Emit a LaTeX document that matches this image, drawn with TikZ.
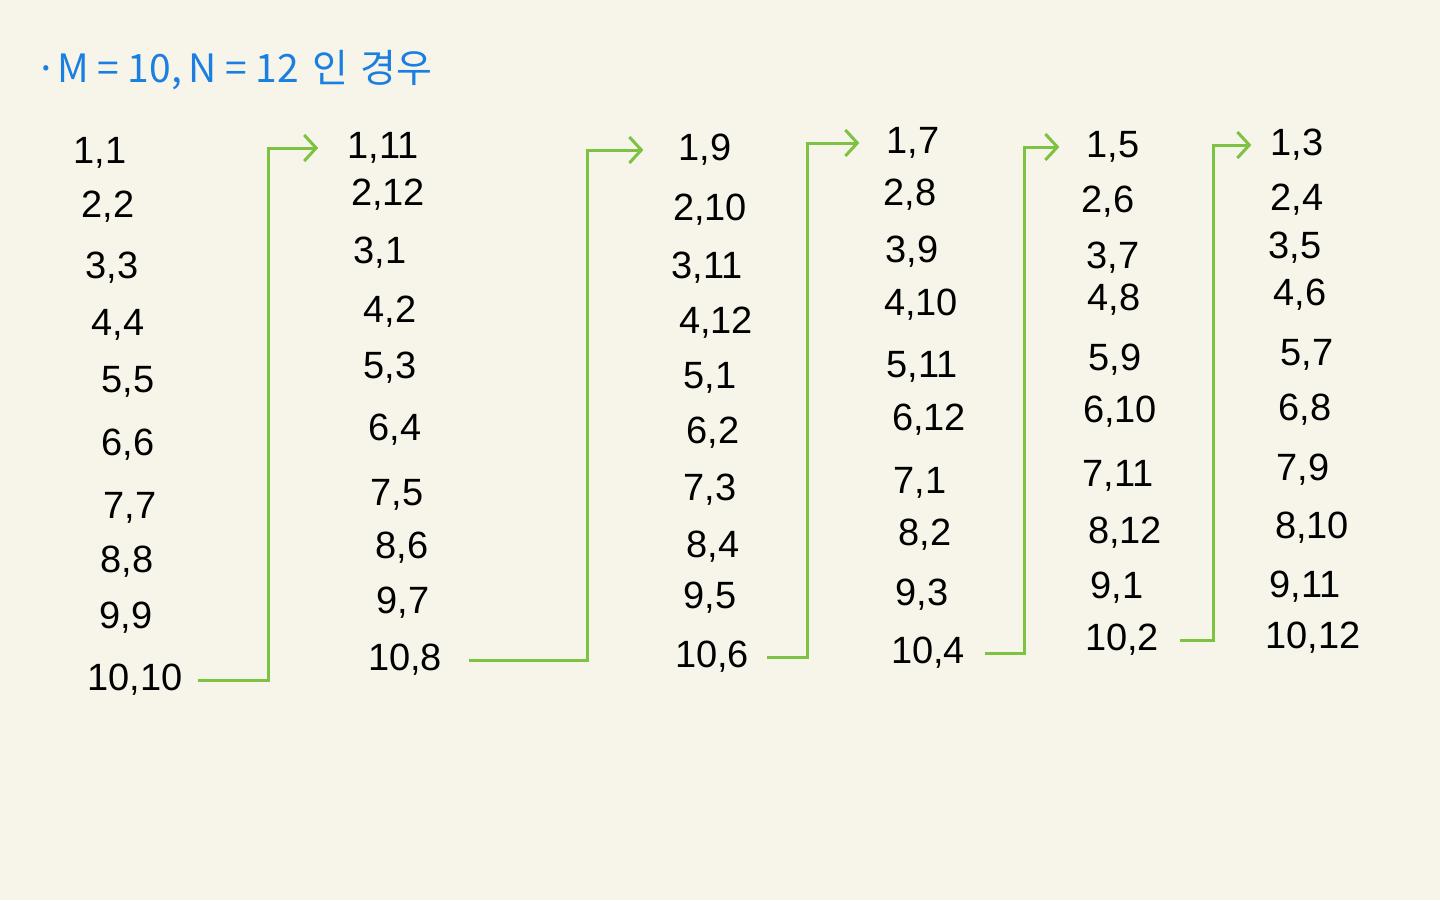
\documentclass[tikz,border=0pt]{standalone}
\usepackage{fontspec}
\setmainfont{Liberation Sans}
\newfontfamily\krfont{Noto Sans CJK KR}
\usetikzlibrary{arrows.meta}
\definecolor{bg}{HTML}{F7F5EA}
\definecolor{grn}{HTML}{7DC242}
\definecolor{blu}{HTML}{1A7FE0}
\tikzset{
  pair/.style={inner sep=1pt, font=\fontsize{38}{40}\selectfont, text=black},
  arr/.style={draw=grn, line width=3pt, -{Straight Barb[length=12pt,width=26pt,line width=3pt]}, line join=miter},
  ttl/.style={inner sep=0pt, anchor=west, text=blu, font=\krfont\fontsize{39}{44}\selectfont}
}
\begin{document}
\begin{tikzpicture}[x=1pt,y=-1pt]
\useasboundingbox (0,0) rectangle (1440,900);
\fill[bg] (0,0) rectangle (1440,900);
\node[ttl] (title) at (35,70) {·M = 10,\,N = 12\,\,인\,\,경우};
% column 1
\node[pair] (a1) at (100,153) {1,1};
\node[pair] (a2) at (108,207) {2,2};
\node[pair] (a3) at (112,268) {3,3};
\node[pair] (a4) at (118,325) {4,4};
\node[pair] (a5) at (128,382) {5,5};
\node[pair] (a6) at (128,445) {6,6};
\node[pair] (a7) at (130,508) {7,7};
\node[pair] (a8) at (127,562) {8,8};
\node[pair] (a9) at (126,618) {9,9};
\node[pair] (a10) at (135,680) {10,10};
% column 2
\node[pair] (b1) at (383,148) {1,11};
\node[pair] (b2) at (388,195) {2,12};
\node[pair] (b3) at (380,253) {3,1};
\node[pair] (b4) at (390,312) {4,2};
\node[pair] (b5) at (390,368) {5,3};
\node[pair] (b6) at (395,430) {6,4};
\node[pair] (b7) at (397,495) {7,5};
\node[pair] (b8) at (402,548) {8,6};
\node[pair] (b9) at (403,603) {9,7};
\node[pair] (b10) at (405,660) {10,8};
% column 3
\node[pair] (c1) at (705,150) {1,9};
\node[pair] (c2) at (710,210) {2,10};
\node[pair] (c3) at (707,268) {3,11};
\node[pair] (c4) at (716,323) {4,12};
\node[pair] (c5) at (710,378) {5,1};
\node[pair] (c6) at (713,433) {6,2};
\node[pair] (c7) at (710,490) {7,3};
\node[pair] (c8) at (713,547) {8,4};
\node[pair] (c9) at (710,598) {9,5};
\node[pair] (c10) at (712,657) {10,6};
% column 4
\node[pair] (d1) at (913,143) {1,7};
\node[pair] (d2) at (910,195) {2,8};
\node[pair] (d3) at (912,252) {3,9};
\node[pair] (d4) at (921,305) {4,10};
\node[pair] (d5) at (922,367) {5,11};
\node[pair] (d6) at (929,420) {6,12};
\node[pair] (d7) at (920,483) {7,1};
\node[pair] (d8) at (925,535) {8,2};
\node[pair] (d9) at (922,595) {9,3};
\node[pair] (d10) at (928,653) {10,4};
% column 5
\node[pair] (e1) at (1113,147) {1,5};
\node[pair] (e2) at (1108,202) {2,6};
\node[pair] (e3) at (1113,258) {3,7};
\node[pair] (e4) at (1114,300) {4,8};
\node[pair] (e5) at (1115,360) {5,9};
\node[pair] (e6) at (1120,412) {6,10};
\node[pair] (e7) at (1118,476) {7,11};
\node[pair] (e8) at (1125,533) {8,12};
\node[pair] (e9) at (1117,588) {9,1};
\node[pair] (e10) at (1122,640) {10,2};
% column 6
\node[pair] (f1) at (1297,145) {1,3};
\node[pair] (f2) at (1297,200) {2,4};
\node[pair] (f3) at (1295,248) {3,5};
\node[pair] (f4) at (1300,295) {4,6};
\node[pair] (f5) at (1307,355) {5,7};
\node[pair] (f6) at (1305,410) {6,8};
\node[pair] (f7) at (1303,470) {7,9};
\node[pair] (f8) at (1312,528) {8,10};
\node[pair] (f9) at (1305,587) {9,11};
\node[pair] (f10) at (1313,638) {10,12};
% connectors
\draw[arr] ([xshift=14pt]a10.east) -- (268,680) |- ([xshift=-28pt]b1.west);
\draw[arr] ([xshift=26pt]b10.east) -- (587,660) |- ([xshift=-34pt]c1.west);
\draw[arr] ([xshift=17pt]c10.east) -- (807,657) |- ([xshift=-26pt]d1.west);
\draw[arr] ([xshift=19pt]d10.east) -- (1024,653) |- ([xshift=-26pt]e1.west);
\draw[arr] ([xshift=20pt]e10.east) -- (1213,640) |- ([xshift=-18pt]f1.west);
\end{tikzpicture}
\end{document}
